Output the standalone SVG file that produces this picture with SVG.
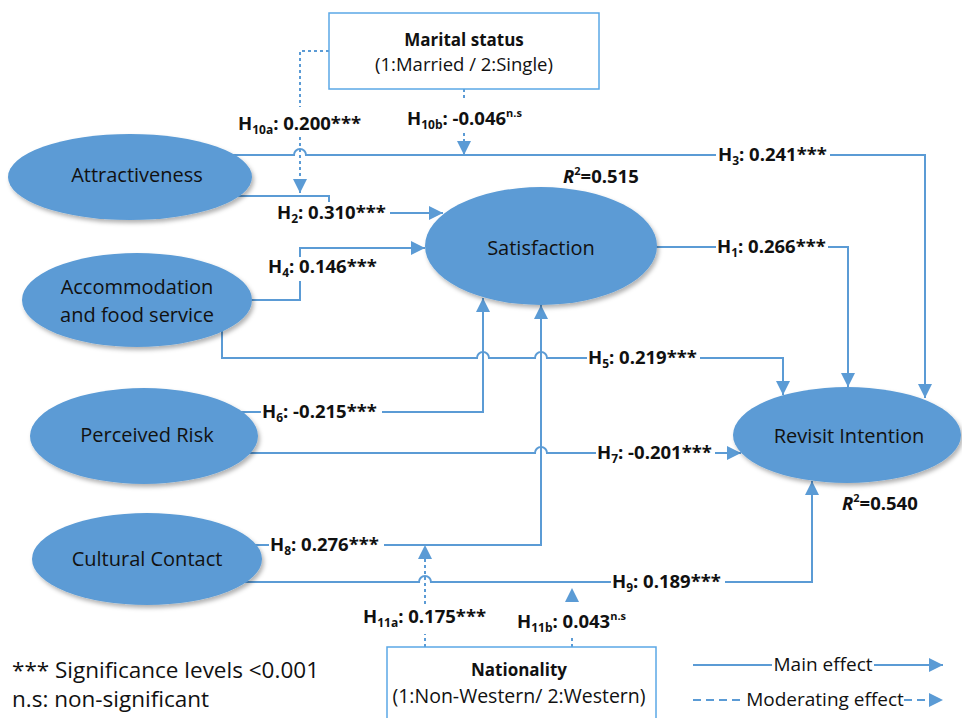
<svg xmlns="http://www.w3.org/2000/svg" width="962" height="718" viewBox="0 0 962 718">
<style>
.ln{fill:none;stroke:#5B9BD5;stroke-width:2}
.dt{fill:none;stroke:#5B9BD5;stroke-width:2;stroke-dasharray:3 3}
.dl{fill:none;stroke:#5B9BD5;stroke-width:2;stroke-dasharray:8 5}
.el{fill:#5B9BD5}
.nt{font-family:"Open Sans","Liberation Sans",sans-serif;font-size:20px;fill:#111;text-anchor:middle}
.lb{font-family:"Open Sans","Liberation Sans",sans-serif;font-size:18.5px;font-weight:bold;fill:#111}
.bx{fill:#fff;stroke:#5BA8E6;stroke-width:1.5}
.tx{font-family:"Open Sans","Liberation Sans",sans-serif;fill:#111}
</style>
<defs>
<marker id="ar" viewBox="0 0 14 14" refX="14" refY="7" markerWidth="14" markerHeight="14" markerUnits="userSpaceOnUse" orient="auto">
<path d="M0,0 L14,7 L0,14 z" fill="#5B9BD5"/>
</marker>
<filter id="sh" x="-10%" y="-10%" width="125%" height="130%">
<feDropShadow dx="2" dy="3" stdDeviation="2" flood-color="#000" flood-opacity="0.3"/>
</filter>
</defs>
<rect width="962" height="718" fill="#fff"/>

<g id="connectors">
<path class="ln" d="M232,155 H294 a6,6 0 0 1 12,0 H716 M830,155 H925 V398" marker-end="url(#ar)"/>
<path class="ln" d="M236,196 H329 V202 M390,213 H443" marker-end="url(#ar)"/>
<path class="ln" d="M250,300 H300 V281 M300,257 V248 H425" marker-end="url(#ar)"/>
<path class="ln" d="M655,247 H716 M828,247 H848 V387" marker-end="url(#ar)"/>
<path class="ln" d="M222,330 V358 H477 a6,6 0 0 1 12,0 H535 a6,6 0 0 1 12,0 H587 M700,358 H783 V395" marker-end="url(#ar)"/>
<path class="ln" d="M240,412 H261 M382,412 H483 V298" marker-end="url(#ar)"/>
<path class="ln" d="M248,453 H535 a6,6 0 0 1 12,0 H596 M715,453 H741" marker-end="url(#ar)"/>
<path class="ln" d="M254,545 H269 M384,545 H541 V305" marker-end="url(#ar)"/>
<path class="ln" d="M244,582 H419 a6,6 0 0 1 12,0 H611 M725,582 H812 V481" marker-end="url(#ar)"/>
<path class="dt" d="M329,51 H300 V107 M300,137 V193" marker-end="url(#ar)"/>
<path class="dt" d="M464,89 V100 M464,133 V155" marker-end="url(#ar)"/>
<path class="dt" d="M425,647 V634 M425,604 V545" marker-end="url(#ar)"/>
<path class="dt" d="M572,647 V637"/>
<polygon points="565,602 579,602 572,588" fill="#5B9BD5"/>

<text class="lb" x="238" y="130">H<tspan font-size="12" dy="4">10a</tspan><tspan dy="-4">: 0.200***</tspan></text>
<text class="lb" x="407" y="125">H<tspan font-size="12" dy="4">10b</tspan><tspan dy="-4">: -0.046</tspan><tspan font-size="11" dy="-8">n.s</tspan></text>
<text class="lb" x="718" y="161">H<tspan font-size="12" dy="4">3</tspan><tspan dy="-4">: 0.241***</tspan></text>
<text class="lb" x="277" y="219">H<tspan font-size="12" dy="4">2</tspan><tspan dy="-4">: 0.310***</tspan></text>
<text class="lb" x="717" y="253">H<tspan font-size="12" dy="4">1</tspan><tspan dy="-4">: 0.266***</tspan></text>
<text class="lb" x="268" y="273">H<tspan font-size="12" dy="4">4</tspan><tspan dy="-4">: 0.146***</tspan></text>
<text class="lb" x="588" y="364">H<tspan font-size="12" dy="4">5</tspan><tspan dy="-4">: 0.219***</tspan></text>
<text class="lb" x="262" y="418">H<tspan font-size="12" dy="4">6</tspan><tspan dy="-4">: -0.215***</tspan></text>
<text class="lb" x="597" y="459">H<tspan font-size="12" dy="4">7</tspan><tspan dy="-4">: -0.201***</tspan></text>
<text class="lb" x="270" y="551">H<tspan font-size="12" dy="4">8</tspan><tspan dy="-4">: 0.276***</tspan></text>
<text class="lb" x="612" y="588">H<tspan font-size="12" dy="4">9</tspan><tspan dy="-4">: 0.189***</tspan></text>
<text class="lb" x="363" y="623">H<tspan font-size="12" dy="4">11a</tspan><tspan dy="-4">: 0.175***</tspan></text>
<text class="lb" x="517" y="628">H<tspan font-size="12" dy="4">11b</tspan><tspan dy="-4">: 0.043</tspan><tspan font-size="11" dy="-8">n.s</tspan></text>
</g>

<g id="attractiveness">
<ellipse class="el" cx="130" cy="177" rx="122" ry="43" filter="url(#sh)"/>
<text class="nt" x="137" y="182">Attractiveness</text>
</g>
<g id="accommodation">
<ellipse class="el" cx="137" cy="300" rx="115" ry="47" filter="url(#sh)"/>
<text class="nt" x="137" y="294">Accommodation</text>
<text class="nt" x="137" y="322">and food service</text>
</g>
<g id="perceived-risk">
<ellipse class="el" cx="144" cy="436" rx="114" ry="48" filter="url(#sh)"/>
<text class="nt" x="147" y="442">Perceived Risk</text>
</g>
<g id="cultural-contact">
<ellipse class="el" cx="147" cy="559" rx="115" ry="46" filter="url(#sh)"/>
<text class="nt" x="147" y="566">Cultural Contact</text>
</g>
<g id="satisfaction">
<ellipse class="el" cx="541" cy="246" rx="116" ry="59" filter="url(#sh)"/>
<text class="nt" x="541" y="255">Satisfaction</text>
<text class="lb" x="563" y="183"><tspan font-style="italic">R</tspan><tspan font-size="11" dy="-8">2</tspan><tspan dy="8">=0.515</tspan></text>
</g>
<g id="revisit-intention">
<ellipse class="el" cx="847" cy="435" rx="114" ry="48" filter="url(#sh)"/>
<text class="nt" x="849" y="443">Revisit Intention</text>
<text class="lb" x="842" y="510"><tspan font-style="italic">R</tspan><tspan font-size="11" dy="-8">2</tspan><tspan dy="8">=0.540</tspan></text>
</g>
<g id="marital-status">
<rect class="bx" x="329" y="13" width="270" height="76"/>
<text class="tx" x="464" y="46" font-size="17" font-weight="bold" text-anchor="middle">Marital status</text>
<text class="tx" x="464" y="71" font-size="18.5" text-anchor="middle">(1:Married / 2:Single)</text>
</g>
<g id="nationality">
<rect class="bx" x="387" y="647" width="269" height="80"/>
<text class="tx" x="519" y="676" font-size="17" font-weight="bold" text-anchor="middle">Nationality</text>
<text class="tx" x="519" y="703" font-size="19.5" text-anchor="middle">(1:Non-Western/ 2:Western)</text>
</g>
<g id="notes">
<text class="tx" x="12" y="678" font-size="22.5">*** Significance levels &lt;0.001</text>
<text class="tx" x="12" y="707" font-size="22.5">n.s: non-significant</text>
</g>
<g id="legend">
<path class="ln" d="M693,665 H772 M874,665 H943" marker-end="url(#ar)"/>
<text class="tx" x="823" y="671" font-size="19" text-anchor="middle">Main effect</text>
<path class="dl" d="M693,700 H745 M904,700 H943" marker-end="url(#ar)"/>
<text class="tx" x="825" y="706" font-size="19" text-anchor="middle">Moderating effect</text>
</g>
</svg>
